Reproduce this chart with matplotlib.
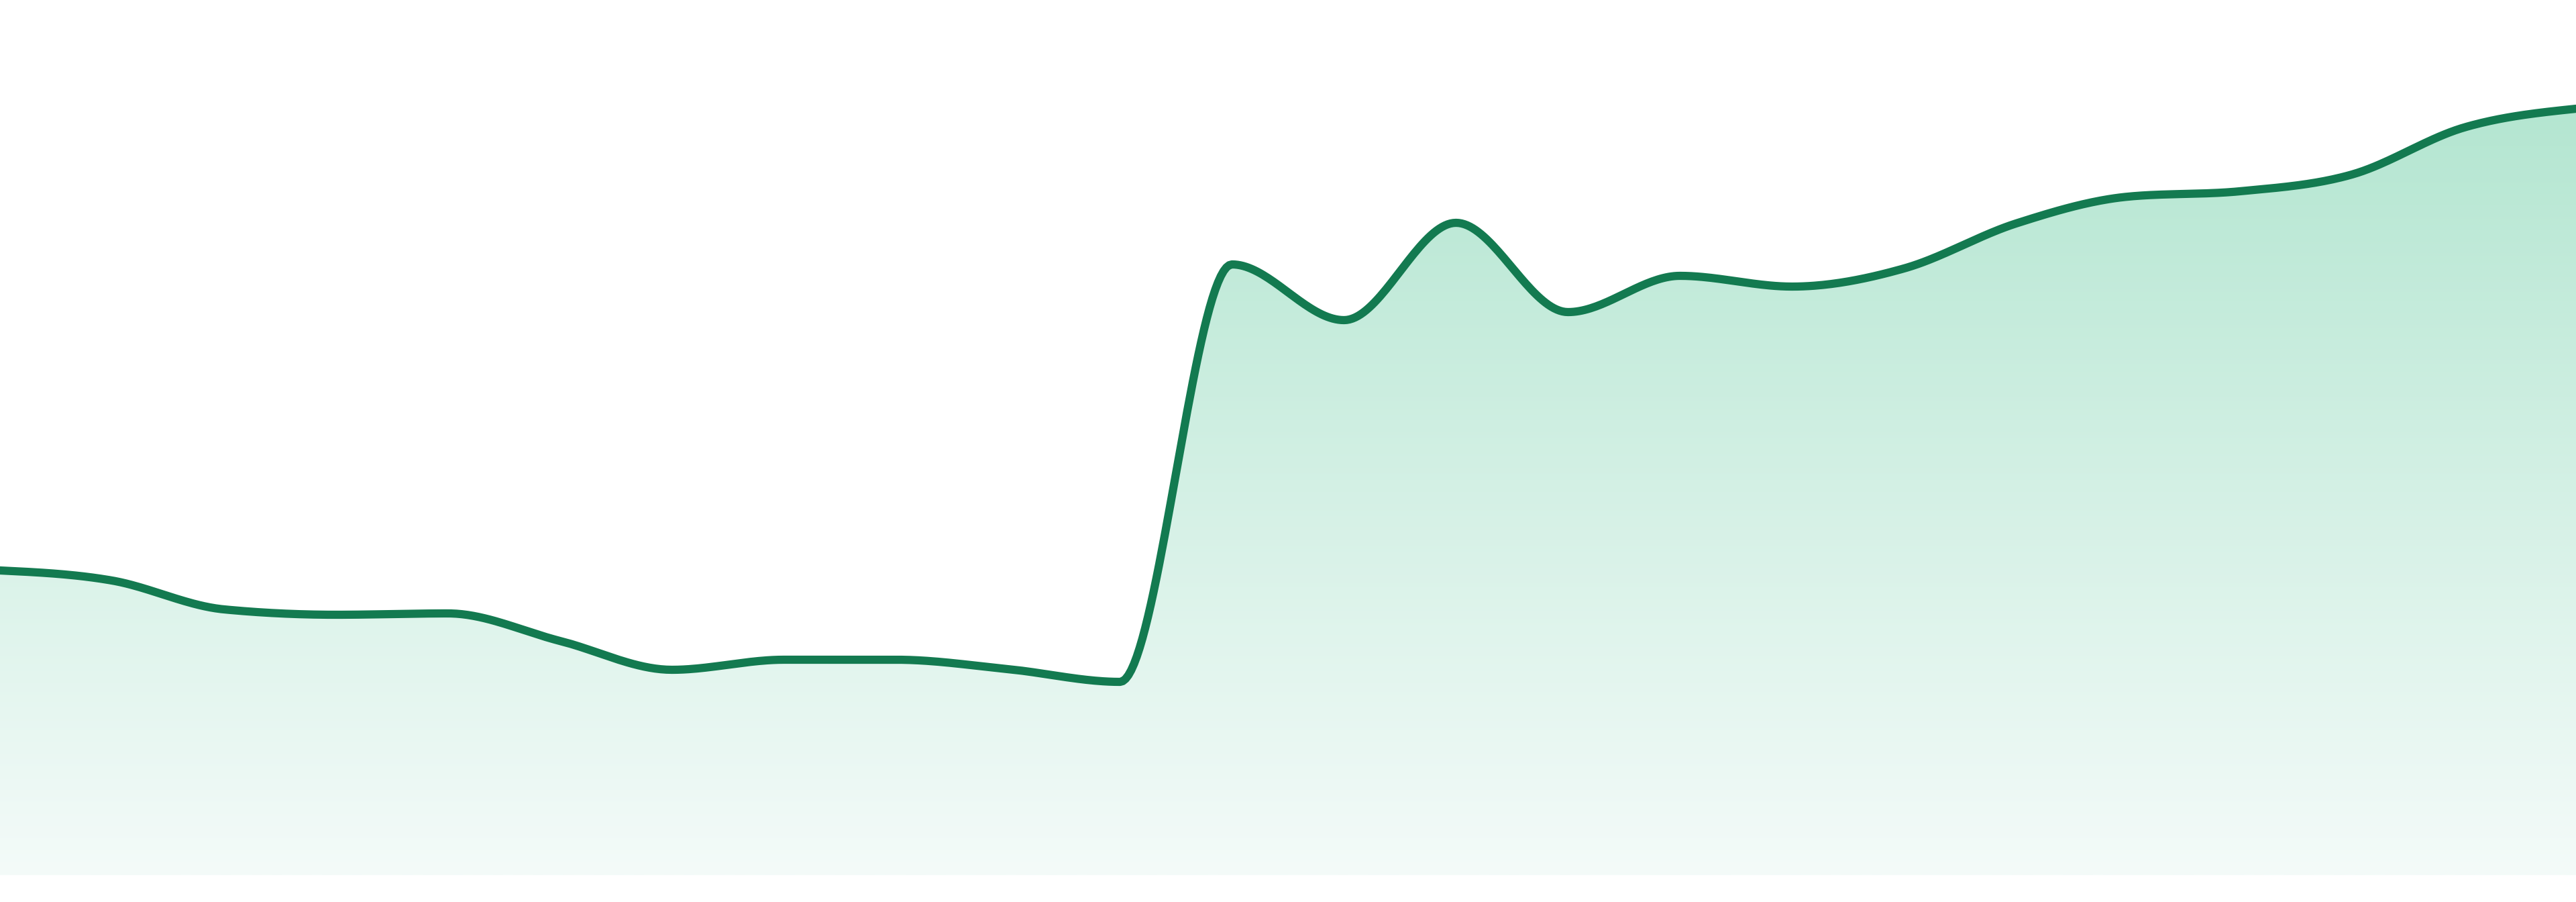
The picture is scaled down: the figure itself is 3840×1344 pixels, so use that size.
import numpy as np
import matplotlib
matplotlib.use("Agg")
import matplotlib.pyplot as plt
from matplotlib.colors import to_rgb
from matplotlib.patches import Polygon

# values (arbitrary units, baseline = 0)
steps = list(range(24))
values = [454, 439, 396, 388, 390, 349, 306, 321, 321, 307, 288, 910,
          827, 972, 839, 893, 877, 904, 971, 1011, 1019, 1044, 1114, 1142]

line_color = "#137a50"
fill_top = "#b4e6d1"
fill_bottom = "#f4fbf9"


def monotone_x(x, y, per_seg=40):
    # same smoothing as d3.curveMonotoneX
    x = np.asarray(x, float)
    y = np.asarray(y, float)
    n = len(x)
    h = np.diff(x)
    s = np.diff(y) / h
    t = np.zeros(n)
    for i in range(1, n - 1):
        p = (s[i - 1] * h[i] + s[i] * h[i - 1]) / (h[i - 1] + h[i])
        t[i] = (np.sign(s[i - 1]) + np.sign(s[i])) * min(abs(s[i - 1]), abs(s[i]), 0.5 * abs(p))
    t[0] = (3 * s[0] - t[1]) / 2
    t[-1] = (3 * s[-1] - t[-2]) / 2
    xs, ys = [], []
    for i in range(n - 1):
        u = np.linspace(0, 1, per_seg, endpoint=(i == n - 2))
        dx = h[i]
        x0, x1 = x[i], x[i + 1]
        y0, y1 = y[i], y[i + 1]
        c0 = (x0, y0)
        c1 = (x0 + dx / 3, y0 + dx / 3 * t[i])
        c2 = (x1 - dx / 3, y1 - dx / 3 * t[i + 1])
        c3 = (x1, y1)
        b = [(1 - u) ** 3, 3 * (1 - u) ** 2 * u, 3 * (1 - u) * u ** 2, u ** 3]
        xs.append(b[0] * c0[0] + b[1] * c1[0] + b[2] * c2[0] + b[3] * c3[0])
        ys.append(b[0] * c0[1] + b[1] * c1[1] + b[2] * c2[1] + b[3] * c3[1])
    return np.concatenate(xs), np.concatenate(ys)


fig = plt.figure(figsize=(19.2, 6.72), dpi=200)
ax = fig.add_axes([0, 0, 1, 1])

sx, sy = monotone_x(steps, values)

# gradient fill under the curve
top = np.array(to_rgb(fill_top))
bot = np.array(to_rgb(fill_bottom))
k = np.linspace(0, 1, 256)[:, None]
grad = (top * (1 - k) + bot * k)[:, None, :]
img = ax.imshow(grad, extent=(steps[0], steps[-1], 0, max(values)),
                aspect="auto", origin="upper", interpolation="bilinear", zorder=1)
verts = np.column_stack([np.r_[sx, sx[-1], sx[0]], np.r_[sy, 0, 0]])
clip = Polygon(verts, closed=True, transform=ax.transData, facecolor="none", edgecolor="none")
ax.add_patch(clip)
img.set_clip_path(clip)

ax.plot(sx, sy, color=line_color, linewidth=4.4, solid_capstyle="round", zorder=3)

# limits after imshow, which resets them
ax.set_xlim(steps[0], steps[-1])
ax.set_ylim(-40, 1304)
ax.axis("off")

fig.savefig("out.png", dpi=200, facecolor="white")
